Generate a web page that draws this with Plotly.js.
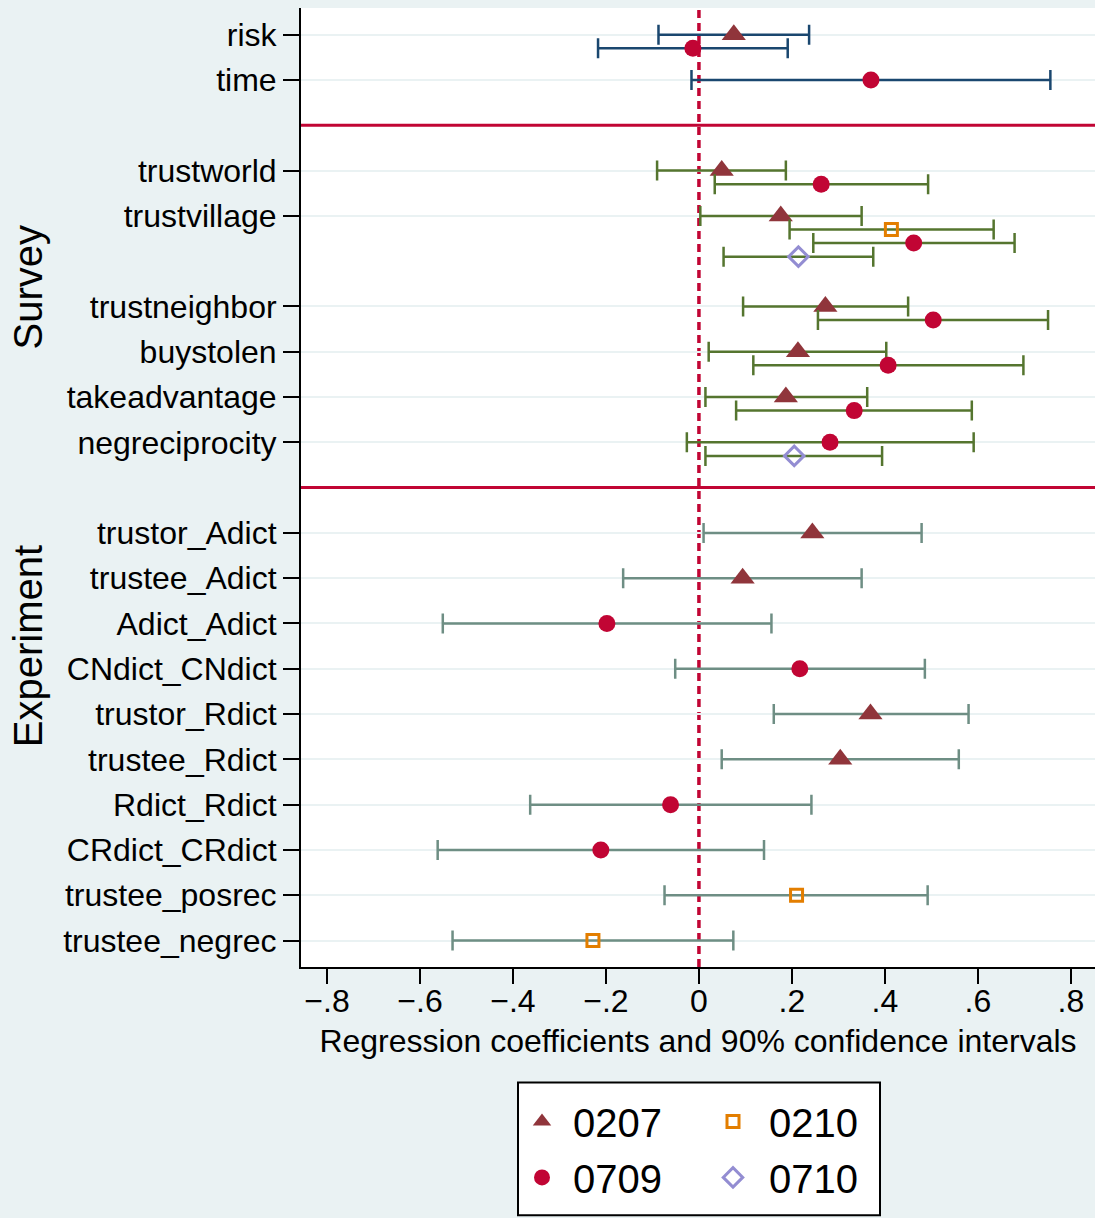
<!DOCTYPE html>
<html>
<head>
<meta charset="utf-8">
<script src="https://cdn.plot.ly/plotly-3.0.1.min.js"></script>
<style>html,body{margin:0;padding:0;background:#eaf2f3;}</style>
</head>
<body>
<div id="chart" style="width:1095px;height:1218px;"></div>
<script>
// ---- categories by group ----
const catsTop = ["risk", "time"];
const catsSurvey = ["trustworld", "trustvillage", "trustneighbor", "buystolen", "takeadvantage", "negreciprocity"];
const catsExperiment = ["trustor_Adict", "trustee_Adict", "Adict_Adict", "CNdict_CNdict", "trustor_Rdict",
  "trustee_Rdict", "Rdict_Rdict", "CRdict_CRdict", "trustee_posrec", "trustee_negrec"];
const groupLabels = ["", "Survey", "Experiment"];

// ---- series (coefficient, lower and upper 90% CI) ----
const seriesNames = ["0207", "0210", "0709", "0710"];

const cat0207 = ["risk", "trustworld", "trustvillage", "trustneighbor", "buystolen", "takeadvantage",
  "trustor_Adict", "trustee_Adict", "trustor_Rdict", "trustee_Rdict"];
const est0207 = [0.075, 0.049, 0.176, 0.272, 0.213, 0.187, 0.244, 0.094, 0.369, 0.304];
const lo0207  = [-0.087, -0.090, 0.003, 0.095, 0.021, 0.014, 0.010, -0.163, 0.161, 0.049];
const hi0207  = [0.237, 0.187, 0.350, 0.450, 0.403, 0.362, 0.479, 0.350, 0.580, 0.559];

const cat0210 = ["trustvillage", "trustee_posrec", "trustee_negrec"];
const est0210 = [0.414, 0.210, -0.228];
const lo0210  = [0.195, -0.074, -0.530];
const hi0210  = [0.634, 0.492, 0.074];

const cat0709 = ["risk", "time", "trustworld", "trustvillage", "trustneighbor", "buystolen", "takeadvantage",
  "negreciprocity", "Adict_Adict", "CNdict_CNdict", "Rdict_Rdict", "CRdict_CRdict"];
const est0709 = [-0.013, 0.370, 0.263, 0.462, 0.504, 0.407, 0.334, 0.282, -0.198, 0.217, -0.061, -0.211];
const lo0709  = [-0.217, -0.016, 0.034, 0.246, 0.256, 0.117, 0.080, -0.026, -0.551, -0.051, -0.363, -0.562];
const hi0709  = [0.191, 0.756, 0.493, 0.679, 0.751, 0.698, 0.587, 0.591, 0.156, 0.486, 0.242, 0.140];

const cat0710 = ["trustvillage", "negreciprocity"];
const est0710 = [0.214, 0.205];
const lo0710  = [0.053, 0.014];
const hi0710  = [0.375, 0.394];

// x tick labels
const xTickVals = [-0.8, -0.6, -0.4, -0.2, 0, 0.2, 0.4, 0.6, 0.8];
const xTickText = ["\u2212.8", "\u2212.6", "\u2212.4", "\u2212.2", "0", ".2", ".4", ".6", ".8"];

// ---- styles ----
const groupColors = ["#1a476f", "#55752f", "#6e8e84"];
const seriesStyle = {
  "0207": {symbol: "triangle-up", color: "#90353b", size: 21, lw: 0, legend: "legend",
           lx: 511, ly: 1122, iw: 52},
  "0210": {symbol: "square-open", color: "#e37e00", size: 12, lw: 3, legend: "legend2",
           lx: 697, ly: 1122, iw: 62},
  "0709": {symbol: "circle", color: "#c10534", size: 17, lw: 0, legend: "legend3",
           lx: 511, ly: 1178, iw: 52},
  "0710": {symbol: "diamond-open", color: "#938dd2", size: 15, lw: 3, legend: "legend4",
           lx: 697, ly: 1178, iw: 62}
};
const seriesData = {
  "0207": [cat0207, est0207, lo0207, hi0207],
  "0210": [cat0210, est0210, lo0210, hi0210],
  "0709": [cat0709, est0709, lo0709, hi0709],
  "0710": [cat0710, est0710, lo0710, hi0710]
};
const groups = [catsTop, catsSurvey, catsExperiment];

// ---- row layout ----
const rowPos = {};
const sepPos = [];
let pos = 0;
groups.forEach((cats, gi) => {
  if (gi > 0) { sepPos.push(pos); pos += 1; }
  cats.forEach(c => {
    rowPos[c] = pos;
    const n = seriesNames.filter(s => seriesData[s][0].includes(c)).length;
    pos += n > 3 ? 2 : 1;
  });
});
function rank(s, c) {
  return seriesNames.filter(t => seriesData[t][0].includes(c)).indexOf(s);
}

// ---- traces ----
const traces = [];
seriesNames.forEach(s => {
  const [cats, est, lo, hi] = seriesData[s];
  const st = seriesStyle[s];
  let first = true;
  groups.forEach((gcats, gi) => {
    const idx = cats.map((c, i) => i).filter(i => gcats.includes(cats[i]));
    if (!idx.length) return;
    traces.push({
      type: "scatter", mode: "markers", name: s, legendgroup: s, legend: st.legend,
      showlegend: first,
      x: idx.map(i => est[i]),
      y: idx.map(i => rowPos[cats[i]] + 0.3 * rank(s, cats[i])),
      error_x: {type: "data", symmetric: false,
        array: idx.map(i => hi[i] - est[i]), arrayminus: idx.map(i => est[i] - lo[i]),
        color: groupColors[gi], thickness: 2.5, width: 10},
      marker: {symbol: st.symbol, color: st.color, size: st.size,
        line: {color: st.color, width: st.lw}},
      hoverinfo: "x+y"
    });
    first = false;
  });
});

const allCats = [].concat(catsTop, catsSurvey, catsExperiment);
const font = {family: "Liberation Sans, Arial, sans-serif", color: "#000"};

// pixel helpers for paper coordinates (plot area 301..1095 x 8..967.5)
const px = v => (v - 301) / 794;
const py = v => (967.5 - v) / 959.5;

const shapes = [];
sepPos.forEach(p => shapes.push({type: "line", xref: "paper", x0: 0, x1: 1, yref: "y", y0: p, y1: p,
  line: {color: "#c10534", width: 3}, layer: "between"}));
shapes.push({type: "line", xref: "x", x0: 0, x1: 0, yref: "paper", y0: 0, y1: 1,
  line: {color: "#c10534", width: 3.5, dash: "8px,5px"}, layer: "between"});
// legend box
shapes.push({type: "rect", xref: "paper", yref: "paper",
  x0: px(518), x1: px(880), y0: py(1216), y1: py(1083),
  fillcolor: "#ffffff", line: {color: "#000", width: 2}, layer: "below"});

const annotations = [
  {text: groupLabels[1], xref: "paper", x: px(28), yref: "y", y: 5.58, textangle: -90,
   showarrow: false, xanchor: "center", yanchor: "middle", font: Object.assign({size: 40}, font)},
  {text: groupLabels[2], xref: "paper", x: px(28), yref: "y", y: 13.5, textangle: -90,
   showarrow: false, xanchor: "center", yanchor: "middle", font: Object.assign({size: 40}, font)}
];

const layout = {
  width: 1095, height: 1218,
  margin: {l: 301, r: 0, t: 8, b: 250.5},
  paper_bgcolor: "#eaf2f3", plot_bgcolor: "#ffffff",
  font: Object.assign({size: 32}, font),
  showlegend: true,
  xaxis: {range: [-0.856, 0.852], tickvals: xTickVals, ticktext: xTickText,
    ticks: "outside", ticklen: 15, tickwidth: 2, tickcolor: "#000", ticklabelstandoff: -10,
    showline: true, linecolor: "#000", linewidth: 2, showgrid: false, zeroline: false,
    tickfont: Object.assign({size: 32}, font),
    title: {text: "Regression coefficients and 90% confidence intervals", standoff: 11,
      font: Object.assign({size: 32}, font)}},
  yaxis: {range: [20.585, -0.59], tickvals: allCats.map(c => rowPos[c]), ticktext: allCats,
    ticks: "outside", ticklen: 16, tickwidth: 2, tickcolor: "#000", ticklabelstandoff: 0,
    showline: true, linecolor: "#000", linewidth: 2, showgrid: true, gridcolor: "#eaf2f3", gridwidth: 2,
    zeroline: false, tickfont: Object.assign({size: 32}, font)},
  shapes: shapes,
  annotations: annotations
};
seriesNames.forEach(s => {
  const st = seriesStyle[s];
  layout[st.legend] = {bgcolor: "rgba(0,0,0,0)", borderwidth: 0, font: Object.assign({size: 40}, font),
    orientation: "v", xanchor: "left", yanchor: "middle", itemwidth: st.iw,
    x: px(st.lx), y: py(st.ly)};
});

Plotly.newPlot("chart", traces, layout, {displayModeBar: false, staticPlot: true});
</script>
</body>
</html>
